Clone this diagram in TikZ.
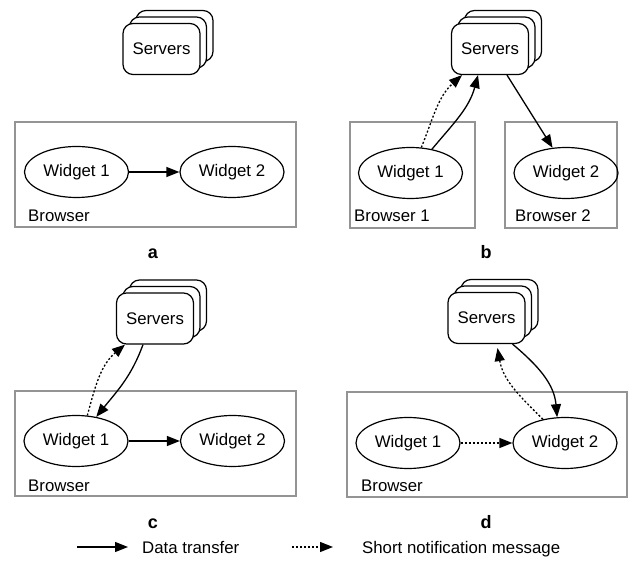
\documentclass[tikz,border=0pt]{standalone}
\usepackage{fontspec}
\setmainfont{Liberation Sans}
\usetikzlibrary{shapes.geometric,arrows.meta}
\begin{document}
\begin{tikzpicture}[x=1pt,y=1pt,
  every node/.style={font=\fontsize{16.8}{19}\selectfont},
  widget/.style={draw, ellipse, line width=1.2pt, minimum width=104pt, minimum height=51pt, inner sep=0pt},
  srv/.style={draw, fill=white, rectangle, rounded corners=10pt, line width=1.2pt, minimum width=77pt, minimum height=51pt, inner sep=0pt},
  browserbox/.style={draw=black!42, line width=1.5pt},
  lbl/.style={anchor=base west, inner sep=0pt},
  panel/.style={anchor=base, inner sep=0pt, font=\fontsize{18}{20}\selectfont\bfseries},
  data/.style={line width=1.3pt, -{Triangle[length=13pt,width=10pt]}},
  note/.style={line width=1.3pt, dash pattern=on 2pt off 2pt, -{Triangle[length=13pt,width=10pt]}}
]
\useasboundingbox (0,0) rectangle (632,565);

% ---------- panel a ----------
\node[srv] (sa3) at (174.5,529) {};
\node[srv] (sa2) at (168,522.5) {};
\node[srv] (sa) at (161.5,516) {Servers};
\draw[browserbox] (15,443) rectangle (296,338);
\node[widget] (wa1) at (76.5,393) {Widget 1};
\node[widget] (wa2) at (232,393) {Widget 2};
\node[lbl] (ba) at (28,343) {Browser};
\draw[data] (wa1) -- (wa2);
\node[panel] (pa) at (153,306) {a};

% ---------- panel b ----------
\node[srv] (sb3) at (503,529) {};
\node[srv] (sb2) at (496.5,522.5) {};
\node[srv] (sb) at (490,516) {Servers};
\draw[browserbox] (350,443) rectangle (475,337);
\draw[browserbox] (505,443) rectangle (617,337);
\node[widget] (wb1) at (410.5,392) {Widget 1};
\node[widget] (wb2) at (566,392) {Widget 2};
\node[lbl] (bb1) at (354,343) {Browser 1};
\node[lbl] (bb2) at (515,343) {Browser 2};
\draw[note] (wb1.67) to[out=68,in=222] ([xshift=-28pt]sb.south);
\draw[data] (wb1.48) to[out=50,in=-105] ([xshift=-12pt]sb.south);
\draw[data] ([xshift=17pt]sb.south) -- (wb2.118);
\node[panel] (pb) at (486,306) {b};

% ---------- panel c ----------
\node[srv] (sc3) at (168,259.5) {};
\node[srv] (sc2) at (161.5,253) {};
\node[srv] (sc) at (155,246.5) {Servers};
\draw[browserbox] (15,174) rectangle (296,69);
\node[widget] (wc1) at (76,124) {Widget 1};
\node[widget] (wc2) at (232.5,124) {Widget 2};
\node[lbl] (bc) at (28,73) {Browser};
\draw[data] (wc1) -- (wc2);
\draw[note] (wc1.66) to[out=75,in=220] ([xshift=-30pt]sc.south);
\draw[data] ([xshift=-12pt]sc.south) to[out=-110,in=51] (wc1.50);
\node[panel] (pc) at (153,36) {c};

% ---------- panel d ----------
\node[srv] (sd3) at (499.5,260) {};
\node[srv] (sd2) at (493,253.5) {};
\node[srv] (sd) at (486.5,247) {Servers};
\draw[browserbox] (347,173) rectangle (627,68);
\node[widget] (wd1) at (408,122) {Widget 1};
\node[widget] (wd2) at (565,122) {Widget 2};
\node[lbl] (bd) at (361,73) {Browser};
\draw[note] (wd1) -- (wd2);
\draw[note] (wd2.133) to[out=135,in=-80] ([xshift=11pt,yshift=-4pt]sd.south);
\draw[data] ([xshift=26pt]sd.south) to[out=-40,in=95] (wd2.107);
\node[panel] (pd) at (486,36) {d};

% ---------- legend ----------
\coordinate (l1s) at (77,18);
\coordinate (l1e) at (128,18);
\draw[data] (l1s) -- (l1e);
\node[lbl] (l1t) at (142,12) {Data transfer};
\coordinate (l2s) at (292,18);
\coordinate (l2e) at (333,18);
\draw[note] (l2s) -- (l2e);
\node[lbl] (l2t) at (362,12) {Short notification message};
\end{tikzpicture}
\end{document}
